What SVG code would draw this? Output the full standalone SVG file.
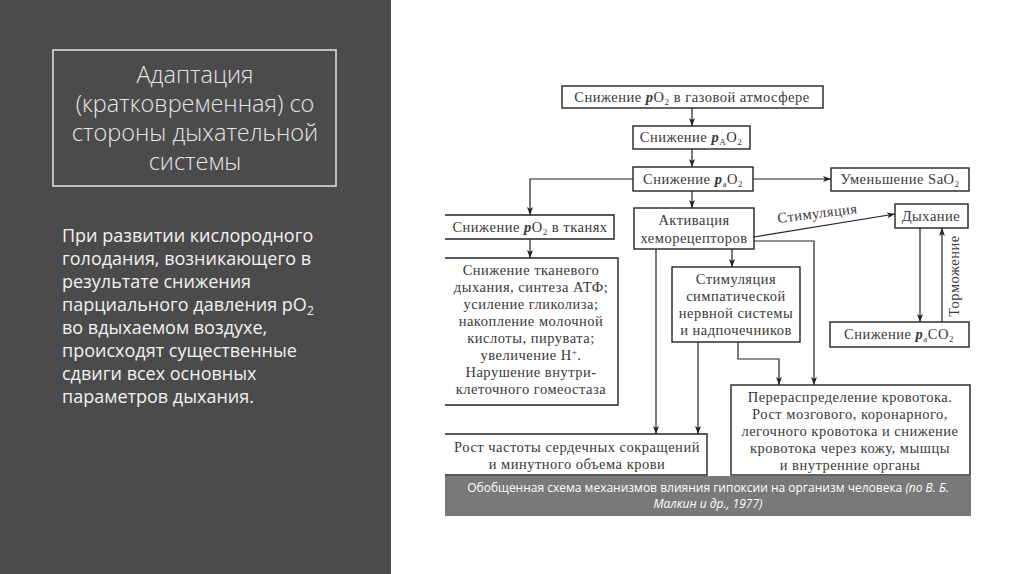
<svg xmlns="http://www.w3.org/2000/svg" width="1024" height="574" viewBox="0 0 1024 574">
<defs>
<marker id="ah" markerWidth="8" markerHeight="6" refX="8" refY="3" orient="auto" markerUnits="userSpaceOnUse">
<path d="M0,0 L8,3 L0,6 L2,3 Z" fill="#222"/>
</marker>
</defs>
<style>
.bx{fill:#fff;stroke:#222;stroke-width:1.4}
.op{fill:none;stroke:#222;stroke-width:1.4}
.t{font-family:"Liberation Serif","Times New Roman",serif;font-size:14.5px;letter-spacing:0.5px;fill:#383838;text-anchor:middle}
.ln{fill:none;stroke:#222;stroke-width:1.2}
.ar{fill:none;stroke:#222;stroke-width:1.2;marker-end:url(#ah)}
.p{font-style:italic;font-weight:bold}
.sb{font-size:9px}
.ttl{font-family:"Open Sans","Noto Sans",sans-serif;font-size:23.5px;font-weight:300;fill:#e6e6e6;text-anchor:middle}
.bd{font-family:"Open Sans","Noto Sans",sans-serif;font-size:18px;fill:#f2f2f2}
.cap{font-family:"Open Sans","Noto Sans",sans-serif;font-size:12px;fill:#fff;text-anchor:middle}
</style>
<rect x="0" y="0" width="1024" height="574" fill="#fff"/>
<rect x="0" y="0" width="391" height="574" fill="#4b4b4b"/>
<g id="title">
<rect x="53" y="50" width="283" height="136" fill="none" stroke="#dcdcdc" stroke-width="1.6"/>
<text class="ttl" x="195" y="83">Адаптация</text>
<text class="ttl" x="195" y="112">(кратковременная) со</text>
<text class="ttl" x="195" y="141">стороны дыхательной</text>
<text class="ttl" x="195" y="170">системы</text>
</g>
<g id="body">
<text class="bd" x="62" y="242">При развитии кислородного</text>
<text class="bd" x="62" y="265">голодания, возникающего в</text>
<text class="bd" x="62" y="288">результате снижения</text>
<text class="bd" x="62" y="311">парциального давления pO<tspan font-size="12" dy="4">2</tspan></text>
<text class="bd" x="62" y="334">во вдыхаемом воздухе,</text>
<text class="bd" x="62" y="357">происходят существенные</text>
<text class="bd" x="62" y="380">сдвиги всех основных</text>
<text class="bd" x="62" y="403">параметров дыхания.</text>
</g>
<g id="connectors">
<line class="ar" x1="692" y1="108" x2="692" y2="126"/>
<line class="ar" x1="692" y1="149" x2="692" y2="167"/>
<line class="ar" x1="692" y1="191" x2="692" y2="208"/>
<line class="ar" x1="753" y1="179" x2="831" y2="179"/>
<polyline class="ar" points="633,179 530,179 530,215"/>
<line class="ar" x1="530" y1="239" x2="530" y2="258"/>
<line class="ar" x1="754" y1="237" x2="895" y2="214"/>
<line class="ar" x1="732" y1="249" x2="732" y2="267"/>
<polyline class="ar" points="754,241 814,241 814,385"/>
<line class="ar" x1="656" y1="249" x2="656" y2="434"/>
<line class="ar" x1="698" y1="342" x2="698" y2="434"/>
<polyline class="ar" points="738,342 738,359 779,359 779,385"/>
<line class="ar" x1="920" y1="228" x2="920" y2="322"/>
<line class="ar" x1="942" y1="322" x2="942" y2="228"/>
<text class="t" transform="translate(818,218) rotate(-7)">Стимуляция</text>
<text class="t" transform="translate(959,276) rotate(-90)">Торможение</text>
</g>
<g id="n1"><rect class="bx" x="562" y="86" width="261" height="22"/>
<text class="t" x="692" y="102">Снижение <tspan class="p">p</tspan>O<tspan class="sb" dy="3">2</tspan><tspan dy="-3"> в газовой атмосфере</tspan></text></g>
<g id="n2"><rect class="bx" x="633" y="126" width="117" height="23"/>
<text class="t" x="691" y="142">Снижение <tspan class="p">p</tspan><tspan class="sb" dy="3">А</tspan><tspan dy="-3">O</tspan><tspan class="sb" dy="3">2</tspan></text></g>
<g id="n3"><rect class="bx" x="633" y="167" width="120" height="24"/>
<text class="t" x="693" y="184">Снижение <tspan class="p">p</tspan><tspan class="sb" dy="3">a</tspan><tspan dy="-3">O</tspan><tspan class="sb" dy="3">2</tspan></text></g>
<g id="n4"><rect class="bx" x="831" y="168" width="138" height="23"/>
<text class="t" x="900" y="184">Уменьшение SaO<tspan class="sb" dy="3">2</tspan></text></g>
<g id="n5"><path class="op" d="M445,215 H614 V239 H445"/>
<text class="t" x="530" y="232">Снижение <tspan class="p">p</tspan>O<tspan class="sb" dy="3">2</tspan><tspan dy="-3"> в тканях</tspan></text></g>
<g id="n6"><rect class="bx" x="634" y="208" width="120" height="41"/>
<text class="t" x="694" y="225">Активация</text>
<text class="t" x="694" y="243">хеморецепторов</text></g>
<g id="n7"><rect class="bx" x="895" y="204" width="73" height="24"/>
<text class="t" x="931" y="221">Дыхание</text></g>
<g id="n8"><path class="op" d="M445,258 H618 V405 H445"/>
<text class="t" x="531" y="275">Снижение тканевого</text>
<text class="t" x="531" y="292">дыхания, синтеза АТФ;</text>
<text class="t" x="531" y="309">усиление гликолиза;</text>
<text class="t" x="531" y="326">накопление молочной</text>
<text class="t" x="531" y="343">кислоты, пирувата;</text>
<text class="t" x="531" y="360">увеличение H<tspan class="sb" dy="-5">+</tspan><tspan dy="5">.</tspan></text>
<text class="t" x="531" y="377">Нарушение внутри-</text>
<text class="t" x="531" y="394">клеточного гомеостаза</text></g>
<g id="n9"><rect class="bx" x="672" y="267" width="128" height="75"/>
<text class="t" x="736" y="284">Стимуляция</text>
<text class="t" x="736" y="301">симпатической</text>
<text class="t" x="736" y="318">нервной системы</text>
<text class="t" x="736" y="335">и надпочечников</text></g>
<g id="n10"><rect class="bx" x="830" y="322" width="139" height="25"/>
<text class="t" x="899" y="339">Снижение <tspan class="p">p</tspan><tspan class="sb" dy="3">a</tspan><tspan dy="-3">CO</tspan><tspan class="sb" dy="3">2</tspan></text></g>
<g id="n11"><rect class="bx" x="731" y="385" width="239" height="90"/>
<text class="t" x="850" y="402">Перераспределение кровотока.</text>
<text class="t" x="850" y="419">Рост мозгового, коронарного,</text>
<text class="t" x="850" y="436">легочного кровотока и снижение</text>
<text class="t" x="850" y="453">кровотока через кожу, мышцы</text>
<text class="t" x="850" y="470">и внутренние органы</text></g>
<g id="n12"><path class="op" d="M445,434 H707 V475 H445"/>
<text class="t" x="577" y="452">Рост частоты сердечных сокращений</text>
<text class="t" x="577" y="469">и минутного объема крови</text></g>
<g id="caption"><rect x="445" y="476" width="526" height="40" fill="#797979"/>
<text class="cap" x="708" y="492">Обобщенная схема механизмов влияния гипоксии на организм человека <tspan font-style="italic">(по В. Б.</tspan></text>
<text class="cap" x="708" y="508" font-style="italic">Малкин и др., 1977)</text></g>
</svg>
